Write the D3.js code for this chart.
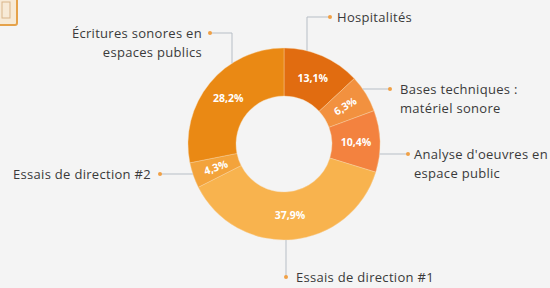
<!DOCTYPE html>
<html>
<head>
<meta charset="utf-8">
<script src="https://cdn.jsdelivr.net/npm/d3@7"></script>
<style>
  html, body { margin: 0; padding: 0; background: #f4f4f4; }
  svg { display: block; }
  text { font-family: "Open Sans", sans-serif; }
</style>
</head>
<body>
<svg id="chart" width="550" height="288"></svg>
<script>
// ---- data ----
const categories = [
  "Hospitalités",
  "Bases techniques : matériel sonore",
  "Analyse d'oeuvres en espace public",
  "Essais de direction #1",
  "Essais de direction #2",
  "Écritures sonores en espaces publics"
];
const labelLines = [
  ["Hospitalités"],
  ["Bases techniques :", "matériel sonore"],
  ["Analyse d'oeuvres en", "espace public"],
  ["Essais de direction #1"],
  ["Essais de direction #2"],
  ["Écritures sonores en", "espaces publics"]
];
const values = [13.1, 6.3, 10.4, 37.9, 4.3, 28.2];
const colors = ["#e16c10", "#f2913f", "#f3823f", "#f8b34e", "#f3a33b", "#ea8914"];

// ---- layout (not data) ----
const cx = 284, cy = 144, R = 96, r = 48;
const callouts = [
  { type: "up",    ax: 307, ey: 17,  dotX: 330, tx: 337, ty: 17,  anchor: "start" },
  { type: "horiz", ay: 89,  side: 1,  dotX: 390, tx: 400, ty: 89,  anchor: "start" },
  { type: "horiz", ay: 154, side: 1,  dotX: 408, tx: 414, ty: 154, anchor: "start" },
  { type: "down",  ax: 286, ey: 277, dotX: 286, tx: 296, ty: 277, anchor: "start" },
  { type: "horiz", ay: 174, side: -1, dotX: 160, tx: 151, ty: 174, anchor: "end" },
  { type: "up",    ax: 232, ey: 33,  dotX: 210, tx: 202, ty: 33,  anchor: "end" }
];

const svg = d3.select("#chart");

// partial icon in top-left corner
svg.append("rect").attr("x", -6).attr("y", -6).attr("width", 23).attr("height", 31)
  .attr("rx", 2).attr("fill", "#f7ead6").attr("stroke", "#e5a24a").attr("stroke-width", 2);
svg.append("rect").attr("x", 2).attr("y", 2).attr("width", 8).attr("height", 16)
  .attr("fill", "none").attr("stroke", "#d9b58a").attr("stroke-width", 1);

const pie = d3.pie().sort(null).value(d => d).startAngle(0).endAngle(2 * Math.PI);
const arcs = pie(values);
const arc = d3.arc().innerRadius(r).outerRadius(R);
const labelArc = d3.arc().innerRadius((r + R) / 2).outerRadius((r + R) / 2);

const g = svg.append("g").attr("transform", `translate(${cx},${cy})`);

g.selectAll("path.slice").data(arcs).join("path")
  .attr("class", "slice")
  .attr("d", arc)
  .attr("fill", (d, i) => colors[i])
  .attr("stroke", "#f7d6a8")
  .attr("stroke-width", 0.4);

const fmt = v => d3.format(".1f")(v).replace(".", ",") + "%";

g.selectAll("text.pct").data(arcs).join("text")
  .attr("class", "pct")
  .attr("transform", d => {
    const [x, y] = labelArc.centroid(d);
    const a = (d.startAngle + d.endAngle) / 2 * 180 / Math.PI;
    let rot = 0;
    if (d.value < 8) {
      rot = a - 90;
      if (rot > 90) rot -= 180;
    }
    return `translate(${x},${y}) rotate(${rot})`;
  })
  .attr("text-anchor", "middle")
  .attr("dy", "0.35em")
  .attr("fill", "#ffffff")
  .attr("font-size", 10.5)
  .attr("font-weight", 700)
  .text(d => fmt(d.value));

// callouts
const lineColor = "#b7bec6";
callouts.forEach((c, i) => {
  let pts;
  if (c.type === "up") {
    const ay = cy - Math.sqrt(R * R - (c.ax - cx) ** 2);
    pts = [[c.ax, ay], [c.ax, c.ey], [c.dotX, c.ey]];
  } else if (c.type === "down") {
    const ay = cy + Math.sqrt(R * R - (c.ax - cx) ** 2);
    pts = [[c.ax, ay], [c.ax, c.ey]];
  } else {
    const ax = cx + c.side * Math.sqrt(R * R - (c.ay - cy) ** 2);
    pts = [[ax, c.ay], [c.dotX, c.ay]];
  }
  svg.append("path").attr("d", d3.line()(pts))
    .attr("fill", "none").attr("stroke", lineColor).attr("stroke-width", 1);
  const last = pts[pts.length - 1];
  svg.append("circle").attr("cx", last[0]).attr("cy", last[1]).attr("r", 2)
    .attr("fill", "#f0a045");
  const t = svg.append("text")
    .attr("x", c.tx).attr("y", c.ty)
    .attr("text-anchor", c.anchor)
    .attr("font-size", 13)
    .attr("letter-spacing", 0.3)
    .attr("fill", "#3a3a3a");
  labelLines[i].forEach((line, k) => {
    t.append("tspan").attr("x", c.tx).attr("dy", k === 0 ? "0.35em" : 19).text(line);
  });
});
</script>
</body>
</html>
